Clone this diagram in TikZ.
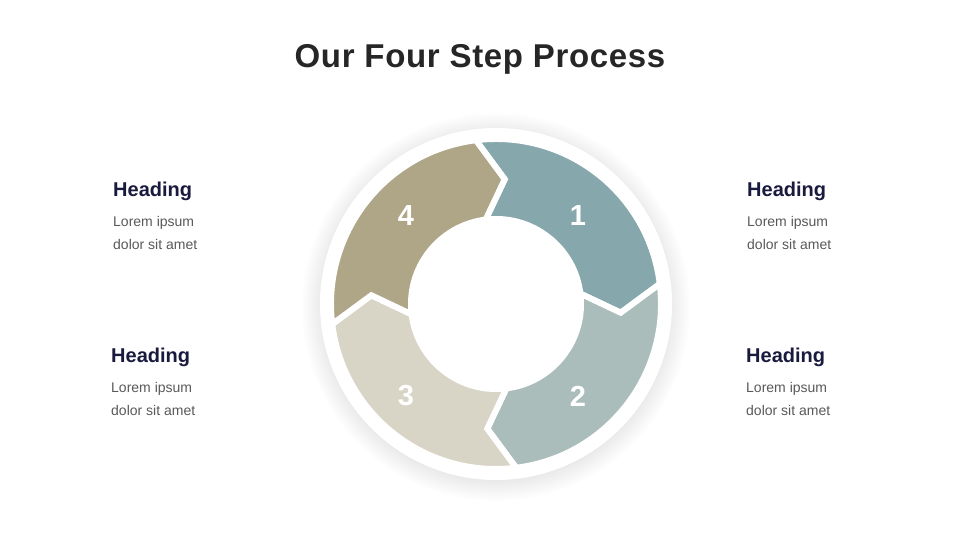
\documentclass[tikz,border=0pt]{standalone}
\usepackage{fontspec}
\setmainfont{Liberation Sans}
\definecolor{segA}{RGB}{134,168,173}
\definecolor{segB}{RGB}{170,189,186}
\definecolor{segC}{RGB}{216,213,199}
\definecolor{segD}{RGB}{175,166,136}
\definecolor{headcol}{RGB}{26,25,62}
\definecolor{bodycol}{RGB}{89,89,89}
\definecolor{titlecol}{RGB}{38,38,38}
\tikzset{
  titletext/.style={inner sep=0pt, anchor=base, text=titlecol, font=\fontsize{33}{38}\selectfont\bfseries\addfontfeature{LetterSpace=2}},
  headtext/.style={inner sep=0pt, anchor=base west, text=headcol, font=\fontsize{20}{24}\selectfont\bfseries},
  bodytext/.style={inner sep=0pt, anchor=base west, text=bodycol, font=\fontsize{14}{17}\selectfont},
  numtext/.style={inner sep=0pt, text=white, font=\fontsize{29}{32}\selectfont\bfseries},
  segpart/.style={draw=white, line width=6pt, line join=miter},
  shadowring/.style={fill=black, fill opacity=0.009}
}
\begin{document}
\begin{tikzpicture}[x=1pt,y=1pt]
\useasboundingbox (0,0) rectangle (960,540);
\fill[white] (0,0) rectangle (960,540);
\node[titletext] (title) at (480,472) {Our Four Step Process};
\begin{scope}[shift={(496,236)}]
  \foreach \r in {174,176,...,194} {
    \fill[shadowring] (0,-3) circle (\r pt);
  }
  \fill[white] (0,0) circle (176pt);
  \foreach \a/\c in {97/segA, 7/segB, -83/segC, -173/segD} {
    \pgfmathsetmacro\b{\a-90}
    \pgfmathsetmacro\ta{\a-11}
    \pgfmathsetmacro\tb{\b-11}
    \path[segpart, fill=\c] (\a:165pt) arc[start angle=\a, end angle=\b, radius=165pt]
      -- (\tb:125pt) -- (\b:85pt) arc[start angle=\b, end angle=\a, radius=85pt]
      -- (\ta:125pt) -- cycle;
  }
\end{scope}
\node[numtext] (n1) at (578,324) {1};
\node[numtext] (n2) at (578,144) {2};
\node[numtext] (n3) at (406,144) {3};
\node[numtext] (n4) at (406,324) {4};
% left top
\node[headtext] (hlt) at (113,343) {Heading};
\node[bodytext] (alt) at (113,313) {Lorem ipsum};
\node[bodytext] (blt) at (113,290) {dolor sit amet};
% left bottom
\node[headtext] (hlb) at (111,177) {Heading};
\node[bodytext] (alb) at (111,147) {Lorem ipsum};
\node[bodytext] (blb) at (111,124) {dolor sit amet};
% right top
\node[headtext] (hrt) at (747,343) {Heading};
\node[bodytext] (art) at (747,313) {Lorem ipsum};
\node[bodytext] (brt) at (747,290) {dolor sit amet};
% right bottom
\node[headtext] (hrb) at (746,177) {Heading};
\node[bodytext] (arb) at (746,147) {Lorem ipsum};
\node[bodytext] (brb) at (746,124) {dolor sit amet};
\end{tikzpicture}
\end{document}
